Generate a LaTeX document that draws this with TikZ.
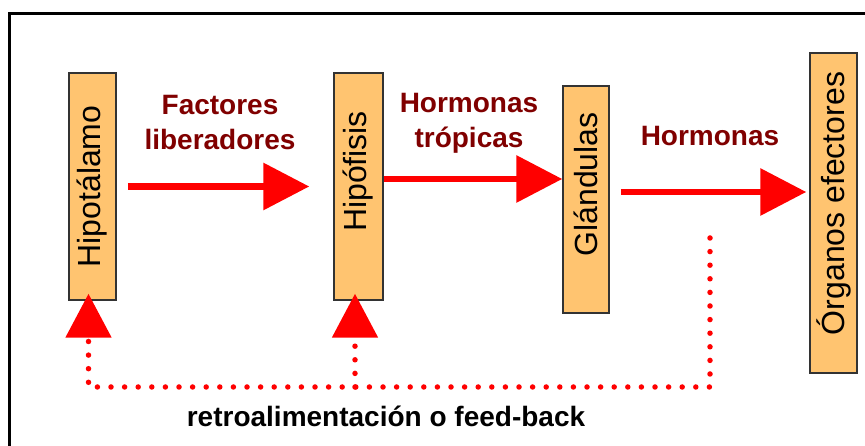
\documentclass[tikz,border=0pt]{standalone}
\usepackage{fontspec}
\setmainfont{Liberation Sans}
\usepackage{graphicx}
\usepackage{xcolor}
\usetikzlibrary{arrows.meta}

\definecolor{relleno}{RGB}{255,196,112}
\definecolor{granate}{RGB}{128,0,0}

\tikzset{
  caja/.style={draw=black!80, line width=1.5pt, fill=relleno, inner sep=0pt,
    font=\fontsize{32}{38}\selectfont},
  flecha/.style={red, line width=6.5pt, -{Triangle[length=46pt,width=46pt]}},
  retro/.style={red, line width=5.5pt, line cap=round, dash pattern=on 0pt off 13.6pt,
    -{Triangle[length=44pt,width=45pt]}},
  etiqueta/.style={granate, align=center, font=\bfseries\fontsize{28}{35}\selectfont}
}

\begin{document}
\begin{tikzpicture}[x=1pt, y=1pt]
          \useasboundingbox (0,0) rectangle (865,446);
          \clip (0,0) rectangle (865,446);
          \draw[line width=3pt] (9,-20) -- (9,432.5) -- (890,432.5);
          % cajas
          \node[caja, minimum width=47pt, minimum height=227pt] (hipo) at (92.5,259.5) {\rotatebox{90}{Hipotálamo}};
          \node[caja, minimum width=49pt, minimum height=227pt] (hipof) at (358.5,259.5) {\rotatebox{90}{\hspace*{30pt}Hipófisis}};
          \node[caja, minimum width=46pt, minimum height=227pt] (gland) at (586,246.5) {\rotatebox{90}{\hspace*{30pt}Glándulas}};
          \node[caja, minimum width=47pt, minimum height=320pt] (organ) at (833.5,233) {\rotatebox{90}{\hspace*{19pt}Órganos efectores}};
          % flechas
          \draw[flecha, shorten <=11pt, shorten >=24pt] (hipo) -- (hipof);
          \draw[flecha] ([yshift=7.5pt]hipof.east) -- ([yshift=7.5pt]hipof.east -| gland.west);
          \draw[flecha, shorten <=11pt, shorten >=3pt] ([yshift=7.5pt]gland.east) -- ([yshift=7.5pt]gland.east -| organ.west);
          \node[etiqueta] (fact) at (220,323) {Factores\\liberadores};
          \node[etiqueta] (trop) at (469,323) {Hormonas\\trópicas};
          \node[etiqueta, anchor=base] (horm) at (710,300) {Hormonas};
          % retroalimentacion
          \coordinate (fb) at (710,208);
          \draw[retro] (fb) -- (fb |- 0,59) -| ([xshift=-4pt,yshift=7pt]hipo.south);
          \draw[retro] ([xshift=-3.5pt]hipof.south |- 0,59) -- ([xshift=-3.5pt,yshift=7pt]hipof.south);
          \node[etiqueta, black, anchor=base] (fback) at (386,19) {retroalimentación o feed-back};
        \end{tikzpicture}
\end{document}
